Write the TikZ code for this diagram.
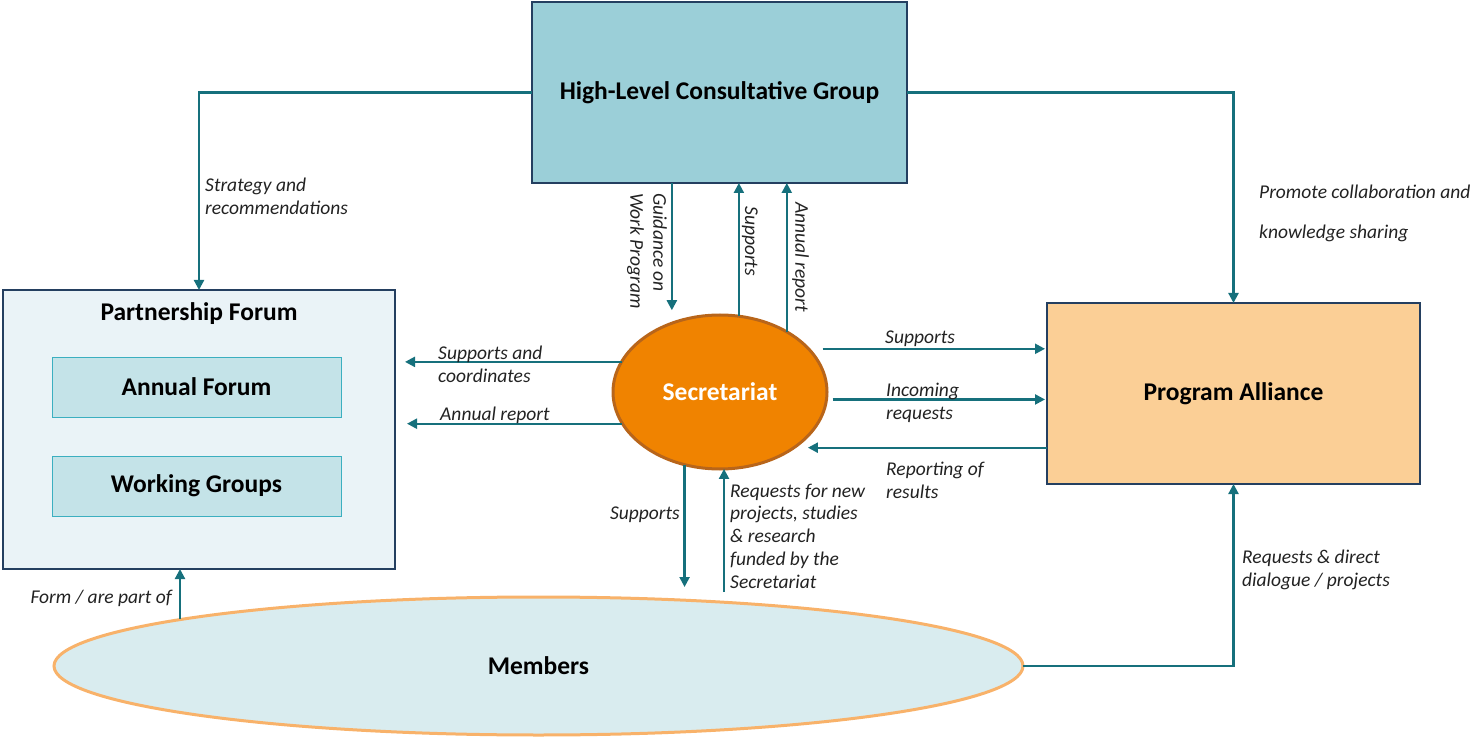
\documentclass[tikz,border=0pt]{standalone}
\usepackage{fontspec}
\setmainfont{Carlito}
\usetikzlibrary{arrows.meta,shapes.geometric,calc}
\definecolor{navy}{HTML}{243F60}
\definecolor{hlcgfill}{HTML}{9BCFD8}
\definecolor{pffill}{HTML}{EAF3F7}
\definecolor{innerfill}{HTML}{C4E3E8}
\definecolor{innerline}{HTML}{3BAFC0}
\definecolor{secfill}{HTML}{F08300}
\definecolor{secline}{HTML}{B8651A}
\definecolor{pafill}{HTML}{FBCF96}
\definecolor{memfill}{HTML}{D9ECEF}
\definecolor{memline}{HTML}{F8B26A}
\definecolor{arrc}{HTML}{16707C}
\definecolor{lblc}{HTML}{222222}
\tikzset{
  titlefont/.style={font=\fontsize{25.5}{30}\selectfont\bfseries},
  bigbox/.style={draw=navy, line width=1.5pt, inner sep=0pt, outer sep=0pt, titlefont},
  innerbox/.style={draw=innerline, line width=0.8pt, fill=innerfill, inner sep=0pt, outer sep=0pt, minimum width=289pt, minimum height=60pt, titlefont},
  arr/.style={draw=arrc, line width=2.2pt, -{Triangle[length=10pt,width=10pt]}},
  lbl/.style={font=\fontsize{19.5}{23}\selectfont\itshape, text=lblc, inner sep=0pt, align=left},
}
\begin{document}
\begin{tikzpicture}[x=1pt,y=-1pt]
\useasboundingbox (0,0) rectangle (1476,738);
% nodes
\node[bigbox, fill=hlcgfill, minimum width=375pt, minimum height=181pt] (hlcg) at (719.5,92.5) {\raisebox{-2pt}{High-Level Consultative Group}};
\node[bigbox, fill=pffill, minimum width=392pt, minimum height=279pt] (pf) at (199,429.5) {};
\node[titlefont, inner sep=0pt] (pft) at (199,314) {Partnership Forum};
\node[innerbox] (af) at (196.5,387) {Annual Forum};
\node[innerbox] (wg) at (196.5,486) {Working Groups};
\node[bigbox, fill=pafill, minimum width=373pt, minimum height=181pt] (pa) at (1233.5,393.5) {\raisebox{-2pt}{Program Alliance}};
\node[ellipse, draw=secline, line width=3pt, fill=secfill, inner sep=0pt, outer sep=0pt, minimum width=214pt, minimum height=154pt, text=white, titlefont] (sec) at (720,392) {Secretariat};
\node[ellipse, draw=memline, line width=3pt, fill=memfill, inner sep=0pt, outer sep=0pt, minimum width=969pt, minimum height=138pt, titlefont] (mem) at (538.5,666) {Members};
\coordinate (memtop) at ($(mem.center)+(-358.5,-47)$);
% connectors
\draw[arr] (hlcg.west) -| (pf.north);
\draw[arr] (hlcg.east) -| (pa.north);
\draw[arr] (mem.east) -| (pa.south);
\draw[arr, shorten >=13pt] (hlcg.south -| sec.125) -- (sec.125);
\draw[arr] (sec.76.7) -- (sec.76.7 |- hlcg.south);
\draw[arr] (sec.42.6) -- (sec.42.6 |- hlcg.south);
\draw[arr, shorten >=10pt] (sec.163) -- (sec.163 -| pf.east);
\draw[arr, shorten >=12pt] (sec.198.2) -- (sec.198.2 -| pf.east);
\draw[arr, shorten <=14pt, shorten >=2pt] (sec.26.6) -- (sec.26.6 -| pa.west);
\draw[arr, shorten <=6pt, shorten >=2pt] (sec.356.2) -- (sec.356.2 -| pa.west);
\draw[arr, shorten >=14pt] (pa.west |- sec.323.7) -- (sec.323.7);
\draw[arr, shorten >=10pt] (sec.244.3) -- (sec.244.3 |- mem.north);
\draw[arr, shorten <=5pt] (sec.273 |- mem.north) -- (sec.273);
\draw[arr] (memtop) -- (memtop |- pf.south);
% labels
\node[lbl, anchor=base west] (l1) at (205,215) {Strategy and\\recommendations};
\node[lbl, anchor=base west, font=\fontsize{19.5}{40}\selectfont\itshape] (l2) at (1259,239) {Promote collaboration and\\knowledge sharing};
\node[lbl, rotate=-90, anchor=north west] (l3) at (667,193) {Guidance on\\Work Program};
\node[lbl, rotate=-90, anchor=north west] (l4) at (758,206) {Supports};
\node[lbl, rotate=-90, anchor=north west] (l5) at (809,202) {Annual report};
\node[lbl, anchor=base west] (l6) at (438,382) {Supports and\\coordinates};
\node[lbl, anchor=base west] (l7) at (440,420) {Annual report};
\node[lbl, anchor=base west] (l8) at (885,343) {Supports};
\node[lbl, anchor=base west] (l9) at (886,419) {Incoming\\requests};
\node[lbl, anchor=base west] (l10) at (886,498) {Reporting of\\results};
\node[lbl, anchor=base east] (l11) at (680,519) {Supports};
\node[lbl, anchor=base west, font=\fontsize{19.5}{22.7}\selectfont\itshape] (l12) at (730,588) {Requests for new\\projects, studies\\\& research\\funded by the\\Secretariat};
\node[lbl, anchor=base east] (l13) at (172,603) {Form / are part of};
\node[lbl, anchor=base west] (l14) at (1242,586) {Requests \& direct\\dialogue / projects};
\end{tikzpicture}
\end{document}
